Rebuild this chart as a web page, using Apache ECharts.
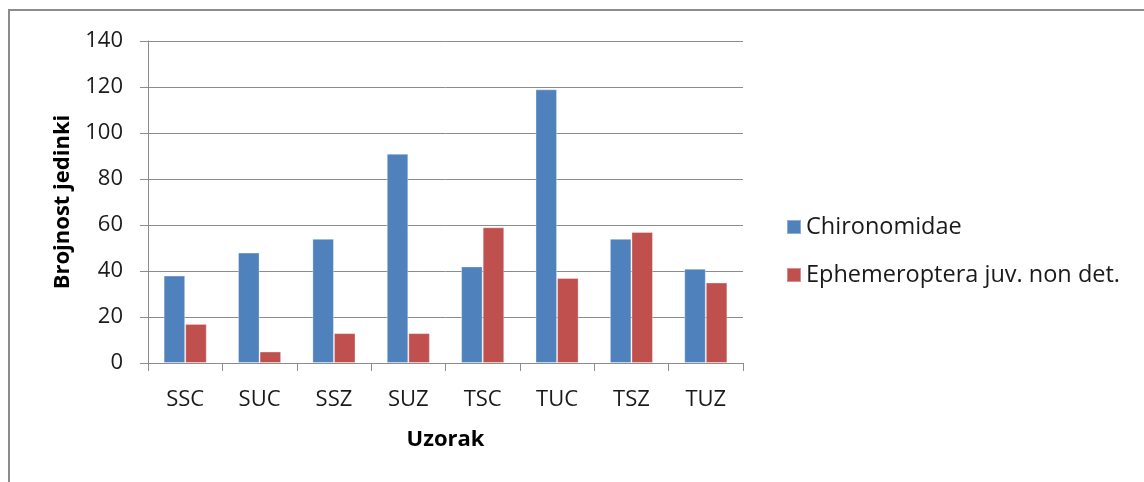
<!DOCTYPE html>
<html>
<head>
<meta charset="utf-8">
<script src="https://cdn.jsdelivr.net/npm/echarts@6/dist/echarts.min.js"></script>
<style>
  html, body { margin: 0; padding: 0; background: #fff; }
  .wrap { position: relative; width: 1144px; height: 482px; }
  #chart { width: 1144px; height: 482px; }
  .frame {
    position: absolute; left: 8px; top: 9px; right: -4px; bottom: -4px;
    border-left: 2px solid #8c8c8c; border-top: 2px solid #8c8c8c;
    pointer-events: none;
  }
</style>
</head>
<body>
<div class="wrap">
  <div id="chart"></div>
  <div class="frame"></div>
</div>
<script>
// podaci sa grafika
const uzorci = ['SSC', 'SUC', 'SSZ', 'SUZ', 'TSC', 'TUC', 'TSZ', 'TUZ']
const chironomidae = [38, 48, 54, 91, 42, 119, 54, 41]
const ephemeroptera = [17, 5, 13, 13, 59, 37, 57, 35]
const yTicks = [0, 20, 40, 60, 80, 100, 120, 140]

const font = "'Open Sans', 'Noto Sans', sans-serif"
const gridColor = '#8c8c8c'

const chart = echarts.init(document.getElementById('chart'), null, { renderer: 'canvas' })

const option = {
  backgroundColor: 'transparent',
  animation: false,
  textStyle: { fontFamily: font },
  grid: { left: 148, right: 401, top: 41, bottom: 119, containLabel: false },
  legend: {
    orient: 'vertical',
    left: 781,
    top: 210,
    itemWidth: 14,
    itemHeight: 14,
    itemGap: 24,
    icon: 'rect',
    textStyle: { fontFamily: font, fontSize: 23.5, color: '#1a1a1a' },
    data: ['Chironomidae', 'Ephemeroptera juv. non det.']
  },
  xAxis: {
    type: 'category',
    data: uzorci,
    name: 'Uzorak',
    nameLocation: 'middle',
    nameGap: 66,
    nameTextStyle: { fontFamily: font, fontSize: 22, fontWeight: 'bold', color: '#000' },
    axisLine: { lineStyle: { color: gridColor, width: 1 } },
    axisTick: { show: true, length: 8, lineStyle: { color: gridColor } },
    axisLabel: { interval: 0, margin: 26, fontFamily: font, fontSize: 22, color: '#1a1a1a' }
  },
  yAxis: {
    type: 'value',
    min: yTicks[0],
    max: yTicks[yTicks.length - 1],
    interval: yTicks[1] - yTicks[0],
    name: 'Brojnost jedinki',
    nameLocation: 'middle',
    nameGap: 74,
    nameTextStyle: { fontFamily: font, fontSize: 22, fontWeight: 'bold', color: '#000' },
    axisLine: { show: true, lineStyle: { color: gridColor, width: 1 } },
    axisTick: { show: true, length: 8, lineStyle: { color: gridColor } },
    axisLabel: { margin: 25, fontFamily: font, fontSize: 22, color: '#1a1a1a' },
    splitLine: { show: true, lineStyle: { color: gridColor, width: 1 } }
  },
  series: [
    {
      name: 'Chironomidae',
      type: 'bar',
      data: chironomidae,
      barGap: '0%',
      barCategoryGap: '42%',
      itemStyle: { color: '#4f81bd', borderColor: 'rgba(255,255,255,0.35)', borderWidth: 1 }
    },
    {
      name: 'Ephemeroptera juv. non det.',
      type: 'bar',
      data: ephemeroptera,
      itemStyle: { color: '#c0504d', borderColor: 'rgba(255,255,255,0.35)', borderWidth: 1 }
    }
  ]
}

chart.setOption(option)
window.addEventListener('resize', () => {
  chart.resize()
})
</script>
</body>
</html>
